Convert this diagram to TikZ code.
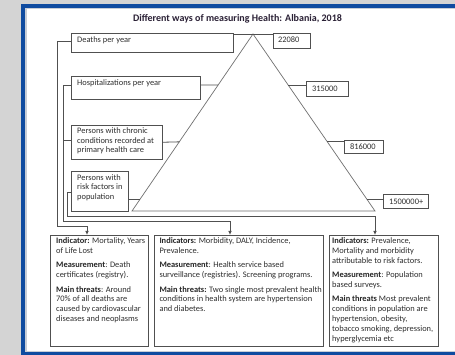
\documentclass[tikz,border=0pt]{standalone}
\usepackage{fontspec}
\setmainfont{Carlito}
\usetikzlibrary{calc,arrows.meta}
\definecolor{bgray}{HTML}{D4D4D4}
\definecolor{fblue}{HTML}{0F4BA0}
\definecolor{fstrip}{HTML}{C8CDD6}
\definecolor{lgray}{HTML}{505050}
\definecolor{tgray}{HTML}{707070}
\definecolor{txt}{HTML}{2E2E2E}
\definecolor{ttl}{HTML}{2A2035}
\newcommand\hlab[1]{{\bfseries\color{black!85}#1}}
\tikzset{
 boxshape/.style={draw=lgray, line width=0.8pt, rectangle, inner sep=0pt, anchor=north west},
 boxtext/.style={anchor=north west, inner sep=0pt, align=left, text=txt, font=\fontsize{8.4}{9.4}\selectfont},
 bigtext/.style={boxtext, font=\fontsize{8.4}{9.8}\selectfont},
 conn/.style={draw=lgray, line width=0.8pt},
 arr/.style={-{Latex[length=4pt,width=3.6pt]}},
 tri/.style={draw=tgray, line width=0.7pt},
}
\begin{document}
\begin{tikzpicture}[x=1pt,y=-1pt]
\useasboundingbox (0,0) rectangle (455,355);
\clip (0,0) rectangle (455,355);
\fill[bgray] (0,0) rectangle (455,355);
\fill[white] (21,4) rectangle (470,356);
\draw[fblue, line width=4pt] (23,6) rectangle (470,354);
\draw[fstrip, line width=1.5pt] (25.75,8.75) rectangle (470,351.25);

\node[font=\fontsize{10}{12}\selectfont\bfseries, text=ttl, anchor=base] (title) at (237.5,21.5) {Different ways of measuring Health: Albania, 2018};

% triangle
\coordinate (apex) at (253,34);
\coordinate (bl) at (132,211);
\coordinate (br) at (375,211);
\draw[tri] (apex) -- (bl) -- (br) -- cycle;
\coordinate (L1) at ($(apex)!0.2881!(bl)$);
\coordinate (R1) at ($(apex)!0.2881!(br)$);
\coordinate (L2) at ($(apex)!0.6093!(bl)$);
\coordinate (R2) at ($(apex)!0.6093!(br)$);
\coordinate (L3) at ($(apex)!0.9322!(bl)$);
\coordinate (R3) at ($(apex)!0.9322!(br)$);

% left boxes
\node[boxshape, minimum width=162pt, minimum height=19pt] (deaths) at (71,33) {};
\node[boxtext] (deathsT) at (77,36) {\strut Deaths per year};
\node[boxshape, minimum width=129pt, minimum height=23pt] (hosp) at (71,76) {};
\node[boxtext] (hospT) at (77,79) {\strut Hospitalizations per year};
\node[boxshape, minimum width=90.7pt, minimum height=34.3pt] (chronic) at (71,124.7) {};
\node[boxtext] (chronicT) at (77,127.2) {\strut Persons with chronic\\conditions recorded at\\primary health care};
\node[boxshape, minimum width=57.3pt, minimum height=40pt] (risk) at (71,171) {};
\node[boxtext] (riskT) at (77,173.8) {\strut Persons with\\risk factors in\\population};

% number boxes
\node[boxshape, minimum width=37pt, minimum height=15pt] (n22080) at (273,33.3) {};
\node[boxtext] (n22080T) at (278,36) {\strut 22080};
\node[boxshape, minimum width=42pt, minimum height=15pt] (n315) at (306,81) {};
\node[boxtext] (n315T) at (312,85) {\strut 315000};
\node[boxshape, minimum width=39pt, minimum height=13.3pt] (n816) at (344,140) {};
\node[boxtext] (n816T) at (350,142.3) {\strut 816000};
\node[boxshape, minimum width=45pt, minimum height=14pt] (n1500) at (383,194.3) {};
\node[boxtext] (n1500T) at (389,197.3) {\strut 1500000+};

% bottom boxes
\node[boxshape, minimum width=98pt, minimum height=111pt] (box1) at (50,235) {};
\node[bigtext] (box1T) at (56,236.8) {\strut\hlab{Indicator:} Mortality, Years\\of Life Lost\\[4.5pt]
\hlab{Measurement}: Death\\certificates (registry).\\[4.5pt]
\hlab{Main threats}: Around\\70\% of all deaths are\\caused by cardiovascular\\diseases and neoplasms};
\node[boxshape, minimum width=169pt, minimum height=111pt] (box2) at (154,235) {};
\node[bigtext] (box2T) at (159.3,236.8) {\strut\hlab{Indicators:} Morbidity, DALY, Incidence,\\Prevalence.\\[4.5pt]
\hlab{Measurement}: Health service based\\surveillance (registries). Screening programs.\\[4.5pt]
\hlab{Main threats:} Two single most prevalent health\\conditions in health system are hypertension\\and diabetes.};
\node[boxshape, minimum width=109pt, minimum height=111pt] (box3) at (329,235) {};
\node[bigtext] (box3T) at (332,236.8) {\strut\hlab{Indicators:} Prevalence,\\Mortality and morbidity\\attributable to risk factors.\\[4.5pt]
\hlab{Measurement}: Population\\based surveys.\\[4.5pt]
\hlab{Main threats} Most prevalent\\conditions in population are\\hypertension, obesity,\\tobacco smoking, depression,\\hyperglycemia etc};

% connectors to triangle and numbers
\draw[conn] ($(deaths.north east)+(0,1)$) -- ($(n22080.north west)+(0,0.7)$);
\draw[conn] ($(hosp.north west)+(129,9)$) -- (L1);
\draw[conn] (R1) -- (n315.west |- R1);
\draw[conn] (chronic.east) -- (L2);
\draw[conn] (R2) -- (n816.west |- R2);
\draw[conn] (risk.east |- L3) -- (L3);
\draw[conn] (R3) -- (n1500.west |- R3);

% connectors to bottom boxes
\draw[conn,arr] ($(deaths.north west)+(0,8.4)$) -| (57,226.7) -| ($(box1.north west)+(37,0)$);
\draw[conn,arr] ($(hosp.north west)+(0,9)$) -| (63,221.3) -| ($(box2.north west)+(76,0)$);
\draw[conn] ($(chronic.north west)+(0,15.5)$) -- ++(-8,0);
\draw[conn,arr] ($(risk.north west)+(0,21.3)$) -| (67.7,216) -| ($(box3.north west)+(46,0)$);
\end{tikzpicture}
\end{document}
